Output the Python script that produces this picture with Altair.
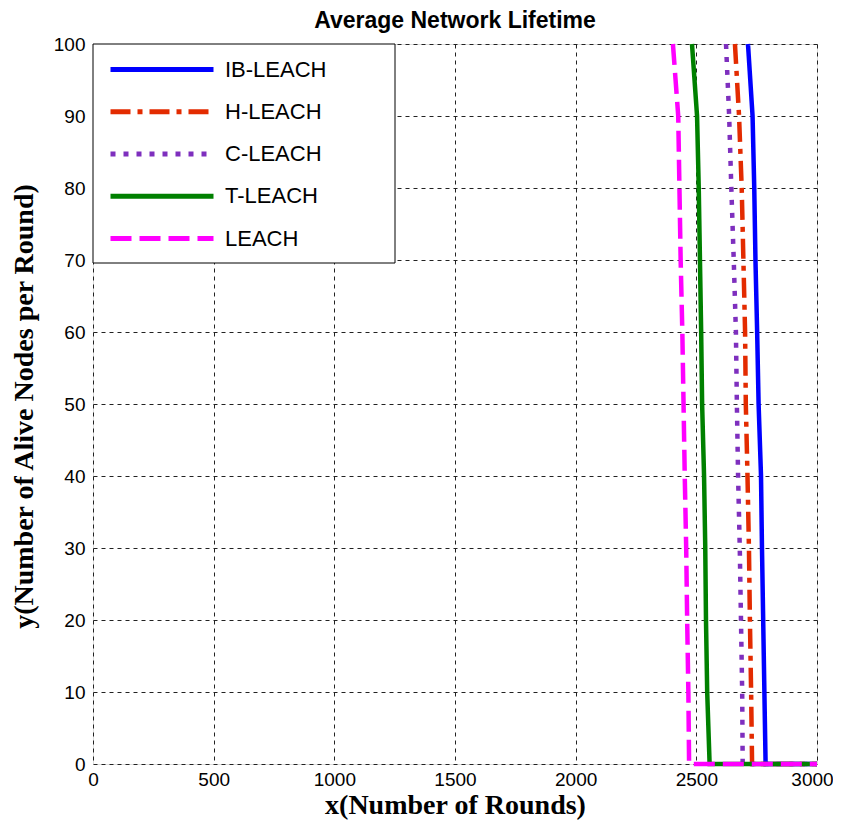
import altair as alt
import pandas as pd

# ---- data ----
series = ["IB-LEACH", "H-LEACH", "C-LEACH", "T-LEACH", "LEACH"]
colors = ["#0000FF", "#E32B00", "#7E2FBE", "#008000", "#FF00FF"]
dashes = [[1, 0], [20, 7, 5, 7], [5, 8], [1, 0], [21, 8]]

alive = [100, 90, 80, 70, 60, 50, 40, 30, 20, 10, 0]
ib_leach = [2714, 2733, 2740, 2745, 2752, 2758, 2768, 2772, 2777, 2782, 2787]
h_leach = [2660, 2677, 2688, 2695, 2702, 2705, 2712, 2718, 2722, 2727, 2731]
c_leach = [2623, 2636, 2645, 2655, 2664, 2668, 2673, 2680, 2685, 2690, 2692]
t_leach = [2482, 2503, 2510, 2515, 2520, 2524, 2532, 2537, 2540, 2545, 2555]
leach = [2403, 2425, 2430, 2435, 2442, 2447, 2452, 2458, 2462, 2467, 2470]
end_round = 3000

x_ticks = [0, 500, 1000, 1500, 2000, 2500, 3000]
y_ticks = [0, 10, 20, 30, 40, 50, 60, 70, 80, 90, 100]

rows = []
for name, vals in zip(series, [ib_leach, h_leach, c_leach, t_leach, leach]):
    i = 0
    for r, a in zip(vals, alive):
        rows.append({"series": name, "round": r, "alive": a, "idx": i})
        i += 1
    rows.append({"series": name, "round": end_round, "alive": 0, "idx": i})
df = pd.DataFrame(rows)

legend = alt.Legend(
    title=None,
    orient="none",
    legendX=0,
    legendY=0,
    symbolType="M-10.3,0H10.3",
    symbolSize=100,
    symbolStrokeWidth=5,
    symbolFillColor="transparent",
    labelFont="Liberation Sans",
    labelFontSize=22,
    labelColor="#000000",
    padding=14.5,
    rowPadding=20.25,
    symbolOffset=43.5,
    labelOffset=52,
)

axis_common = dict(
    labelFont="Liberation Sans",
    labelFontSize=19,
    labelColor="#000000",
    ticks=False,
    domain=False,
    grid=True,
    gridColor="#222222",
    gridDash=[4, 4],
    gridWidth=1,
    labelFlush=False,
    labelOverlap=False,
    format="d",
    titleFont="Liberation Serif",
    titleFontSize=28,
    titleFontWeight="bold",
    titleColor="#000000",
)

lines = (
    alt.Chart(df)
    .mark_line(strokeWidth=4.5, strokeCap="butt")
    .encode(
        x=alt.X(
            "round:Q",
            scale=alt.Scale(domain=[0, 3000], nice=False, zero=False),
            axis=alt.Axis(
                values=x_ticks,
                title="x(Number of Rounds)",
                labelPadding=6,
                labelOffset={"condition": {"test": "datum.value == 3000", "value": -5}, "value": 0},
                titleY=49,
                titleBaseline="alphabetic",
                **axis_common,
            ),
        ),
        y=alt.Y(
            "alive:Q",
            scale=alt.Scale(domain=[0, 100], nice=False),
            axis=alt.Axis(
                values=y_ticks,
                title="y(Number of Alive Nodes per Round)",
                labelPadding=8,
                titleX=-61,
                titleY=362,
                titleAngle=270,
                titleAlign="center",
                titleBaseline="alphabetic",
                **axis_common,
            ),
        ),
        color=alt.Color(
            "series:N",
            scale=alt.Scale(domain=series, range=colors),
            sort=series,
            legend=legend,
        ),
        strokeDash=alt.StrokeDash(
            "series:N",
            scale=alt.Scale(domain=series, range=dashes),
            sort=series,
            legend=legend,
        ),
        order="idx:Q",
    )
)

# frame behind the legend entries
legend_box = (
    alt.Chart(pd.DataFrame({"k": [0]}))
    .mark_rect(fill="#FFFFFF", stroke="#000000", strokeWidth=1)
    .encode(
        x=alt.value(0),
        x2=alt.value(302),
        y=alt.value(0),
        y2=alt.value(219),
    )
)

chart = (
    alt.layer(legend_box, lines)
    .properties(
        width=724,
        height=720,
        autosize=alt.AutoSizeParams(type="none"),
        padding={"left": 85, "top": 36, "right": 16, "bottom": 56},
        title=alt.TitleParams(
            "Average Network Lifetime",
            font="Liberation Sans",
            fontSize=23,
            fontWeight="bold",
            color="#000000",
            anchor="middle",
            offset=2,
        ),
    )
    .configure_view(stroke="#000000", strokeWidth=1)
    .configure(background="#FFFFFF")
)

chart.save("out.html", embed_options={"renderer": "svg", "actions": False})
